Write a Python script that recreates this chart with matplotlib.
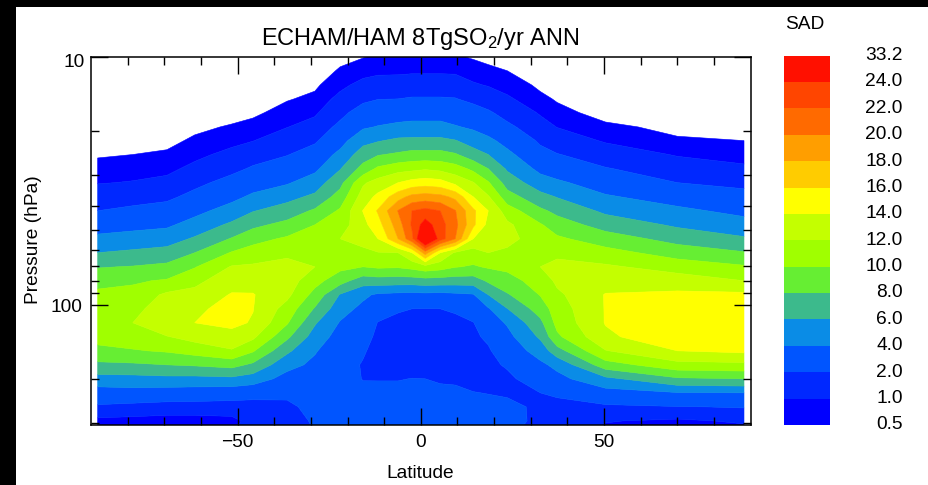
import numpy as np
import matplotlib
matplotlib.use('Agg')
import matplotlib.pyplot as plt
from matplotlib.patches import Rectangle
from matplotlib.transforms import ScaledTranslation

plt.rcParams['font.family'] = ['Liberation Sans', 'DejaVu Sans']
plt.rcParams['mathtext.default'] = 'regular'

W, H = 928, 485

# values
lats = [-88.2, -78.6, -69.3, -61.7, -51.6, -45.8, -36.5, -28.9, -22.0, -15.8, -11.7, -6.2,
        -2.4, 1.2, 5.3, 9.4, 14.3, 18.4, 23.6, 32.6, 37.2, 50.4, 70.0, 88.2]
pressures = [10.0, 11.4, 13.0, 14.8, 16.8, 19.2, 21.8, 24.8, 28.3, 32.2, 36.7, 41.8, 47.6, 54.2,
             61.7, 70.3, 80.0, 91.1, 103.8, 118.2, 134.6, 153.3, 174.6, 198.8, 226.4, 257.8, 293.6, 305.0]
# one line per latitude, top of the atmosphere first
sad = [
    [.15, .17, .2, .22, .25, .27, .32, .44, .70, .96, 1.46, 2.0, 3.17, 4.44, 6.0, 7.87, 9.44, 10.4, 11.0, 11.4, 10.7, 9.45, 7.57, 5.25, 3.0, 1.8, .76, .6],
    [.14, .16, .18, .21, .24, .28, .37, .5, .76, 1.04, 1.58, 2.25, 3.42, 4.78, 6.37, 8.1, 9.76, 10.6, 11.4, 12.0, 11.0, 9.85, 7.7, 5.3, 3.2, 1.55, .75, .6],
    [.13, .15, .17, .19, .22, .27, .34, .59, .84, 1.19, 1.73, 2.56, 3.68, 5.1, 6.75, 8.5, 10.2, 12.4, 13.1, 13.5, 11.9, 10.2, 8.0, 5.45, 3.0, 1.4, .72, .6],
    [.14, .16, .18, .22, .27, .37, .60, .84, 1.18, 1.68, 2.38, 3.46, 4.74, 6.25, 8.0, 9.87, 11.5, 12.6, 13.4, 14.0, 12.7, 10.8, 8.2, 5.4, 2.9, 1.4, .72, .6],
    [.14, .16, .18, .22, .28, .56, .83, 1.19, 1.7, 2.44, 3.5, 4.78, 6.38, 8.14, 10.15, 12.15, 13.15, 14.15, 15.0, 14.4, 13.4, 11.8, 8.65, 5.55, 2.7, 1.4, .8, .85],
    [.15, .17, .2, .27, .39, .69, .98, 1.52, 2.15, 3.19, 4.33, 5.9, 7.53, 9.33, 10.9, 12.3, 13.3, 14.1, 14.05, 13.85, 12.4, 10.2, 7.6, 5.0, 2.5, 1.45, 1.25, 1.3],
    [.17, .2, .27, .46, .71, .98, 1.45, 1.93, 2.86, 3.8, 5.4, 6.9, 8.6, 10.3, 11.7, 12.5, 13.0, 12.5, 11.2, 10.2, 8.4, 6.4, 4.6, 3.3, 2.2, 1.8, 1.5, 1.45],
    [.22, .28, .41, .62, .89, 1.3, 1.8, 2.7, 3.6, 5.0, 6.4, 8.3, 10.0, 10.7, 11.3, 12.0, 10.7, 9.3, 7.8, 6.2, 5.1, 4.15, 3.6, 3.1, 2.7, 2.3, 2.15, 2.1],
    [.38, .55, .84, 1.2, 1.67, 2.3, 3.3, 4.5, 5.9, 7.4, 8.85, 10.3, 11.0, 12.0, 11.2, 10.5, 8.8, 5.85, 4.8, 3.85, 3.2, 2.85, 2.6, 2.4, 2.3, 2.4, 2.4, 2.4],
    [.47, .78, 1.2, 1.75, 2.55, 3.75, 5.4, 7.0, 8.7, 11.7, 12.9, 14.05, 13.4, 12.7, 11.5, 10.0, 6.9, 4.4, 3.5, 3.0, 2.55, 2.15, 1.9, 1.97, 2.2, 2.4, 2.4, 2.4],
    [.55, .85, 1.35, 1.96, 3.0, 4.1, 5.85, 7.85, 10.4, 12.8, 14.5, 16.2, 15.2, 14.0, 11.9, 10.3, 7.1, 3.7, 2.6, 1.95, 1.7, 1.55, 1.5, 1.95, 2.3, 2.4, 2.4, 2.4],
    [.6, .85, 1.4, 2.0, 3.1, 4.45, 6.4, 8.3, 11.3, 14.0, 17.2, 20.1, 19.0, 18.0, 12.0, 10.2, 7.0, 3.5, 2.1, 1.75, 1.6, 1.5, 1.6, 1.95, 2.3, 2.4, 2.4, 2.4],
    [.62, .9, 1.4, 2.1, 3.2, 4.6, 6.45, 8.7, 11.5, 14.8, 18.6, 22.0, 22.3, 21.5, 14.0, 10.6, 7.0, 3.4, 2.0, 1.8, 1.65, 1.55, 1.6, 2.02, 2.3, 2.4, 2.4, 2.4],
    [.55, .9, 1.4, 2.1, 3.2, 4.6, 6.45, 8.7, 11.8, 15.1, 18.9, 22.7, 25.0, 28.0, 19.0, 11.2, 7.2, 3.5, 1.97, 1.8, 1.65, 1.55, 1.6, 2.0, 2.3, 2.4, 2.4, 2.4],
    [.62, .9, 1.4, 2.1, 3.2, 4.6, 6.45, 8.7, 11.5, 14.8, 18.6, 22.0, 22.8, 23.0, 14.0, 10.8, 7.1, 3.4, 2.0, 1.8, 1.65, 1.6, 1.7, 1.9, 2.2, 2.4, 2.4, 2.4],
    [.55, .88, 1.4, 2.05, 3.0, 4.15, 6.1, 8.2, 10.9, 13.5, 17.5, 20.1, 20.6, 20.0, 11.7, 10.1, 7.0, 3.6, 2.1, 1.8, 1.7, 1.6, 1.65, 1.85, 2.2, 2.35, 2.35, 2.35],
    [.45, .72, 1.08, 1.7, 2.55, 3.7, 5.1, 6.9, 9.55, 12.1, 14.0, 16.4, 16.4, 14.0, 11.0, 9.8, 7.0, 3.85, 2.8, 1.95, 1.8, 1.7, 1.65, 1.8, 2.02, 2.3, 2.3, 2.3],
    [.38, .6, .95, 1.45, 2.15, 3.2, 4.4, 6.0, 8.0, 10.2, 12.2, 14.0, 13.4, 12.8, 12.0, 10.2, 8.3, 6.0, 3.8, 3.0, 2.2, 1.85, 1.7, 1.8, 1.98, 2.2, 2.25, 2.25],
    [.3, .5, .78, 1.1, 1.6, 2.25, 3.4, 4.45, 5.75, 7.15, 8.85, 11.0, 12.4, 12.6, 11.6, 10.4, 9.3, 7.8, 5.95, 4.2, 3.4, 2.8, 2.15, 1.7, 1.9, 2.2, 2.3, 2.3],
    [.2, .28, .4, .62, .92, 1.32, 1.77, 2.5, 3.5, 4.9, 6.65, 8.4, 10.2, 11.0, 11.5, 12.0, 10.8, 10.1, 8.9, 7.5, 6.3, 4.8, 3.6, 2.8, 2.0, 1.85, 1.8, 1.7],
    [.18, .24, .33, .45, .65, .98, 1.45, 2.05, 3.1, 4.3, 5.9, 7.5, 8.95, 10.35, 11.55, 12.6, 12.4, 11.6, 11.0, 10.6, 9.6, 7.2, 4.5, 3.4, 2.15, 1.7, 1.55, 1.5],
    [.15, .18, .22, .27, .32, .6, .92, 1.45, 2.07, 3.1, 4.2, 5.6, 7.2, 8.95, 10.75, 12.3, 13.2, 14.1, 14.1, 14.1, 13.6, 11.9, 9.1, 5.5, 3.2, 1.75, 1.05, .95],
    [.14, .17, .2, .24, .29, .38, .56, .94, 1.44, 2.0, 3.2, 4.4, 5.7, 7.3, 9.1, 11.2, 13.0, 14.4, 15.5, 15.7, 15.5, 14.0, 11.3, 7.7, 3.9, 1.95, .85, .75],
    [.13, .15, .17, .2, .25, .31, .5, .78, 1.12, 1.68, 2.45, 3.5, 4.75, 6.25, 8.15, 10.25, 12.0, 14.45, 15.5, 15.8, 15.5, 14.4, 11.5, 8.0, 4.0, 2.07, 1.13, .95],
]

levels = [0.5, 1.0, 2.0, 4.0, 6.0, 8.0, 10.0, 12.0, 14.0, 16.0, 18.0, 20.0, 22.0, 24.0, 33.2]
colors = ['#0000ff', '#0028ff', '#0055ff', '#0a8ce6', '#3cba8c', '#66ee33', '#a0ff00',
          '#c4ff00', '#ffff00', '#ffcc00', '#ff9e00', '#ff6a00', '#ff4500', '#ff1000']
x_major = [-50, 0, 50]
x_labels = ['\u221250', '0', '50']
x_minor = [-80, -70, -60, -40, -30, -20, -10, 10, 20, 30, 40, 60, 70, 80]
y_major = [10, 100]
y_minor = [20, 30, 40, 50, 60, 70, 80, 90, 200, 300]

def box(x0, y0, x1, y1):  # pixel box of the picture, y from the top
    return [x0/W, 1-y1/H, (x1-x0)/W, (y1-y0)/H]

fig = plt.figure(figsize=((W+0.4)/100, (H+0.4)/100), dpi=100, facecolor='black')
fig.add_artist(Rectangle((16/W, 0), 1, 1-7/H, transform=fig.transFigure, color='white', lw=0, zorder=-5))

ax = fig.add_axes(box(91, 57, 751, 425))
ax.set_facecolor('white')
cs = ax.contourf(lats, pressures, np.array(sad).T, levels=levels, colors=colors, antialiased=True)
cs.set_edgecolor('face')  # no white seams between the bands
cs.set_linewidth(0.4)
ax.set_yscale('log')
ax.set_xlim(-90, 90.2)
ax.set_ylim(305, 10)
ax.set_xticks(x_major, x_labels)
ax.set_xticks(x_minor, minor=True)
ax.set_yticks(y_major, ['10', '100'])
ax.set_yticks(y_minor, [''] * len(y_minor), minor=True)
ax.tick_params(which='major', direction='in', length=12, width=1, top=True, right=True, labelsize=13.8, pad=6)
ax.tick_params(which='minor', direction='in', length=6, width=1, top=True, right=True)
ylab = ax.get_yticklabels()[0]
ylab.set_transform(ylab.get_transform() + ScaledTranslation(0.02, -0.035, fig.dpi_scale_trans))
for s in ax.spines.values():
    s.set_linewidth(1.1)
    s.set_zorder(5)

fig.text(420/W, 1-39/H, 'ECHAM/HAM 8TgSO$_2$/yr ANN', fontsize=17, ha='center', va='center')
fig.text(420/W, 1-473/H, 'Latitude', fontsize=13.8, ha='center', va='center')
fig.text(33/W, 1-239/H, 'Pressure (hPa)', fontsize=13.8, rotation=90, ha='center', va='center')

# colour scale: equal boxes, labels on the box edges
cax = fig.add_axes(box(784, 56, 830, 425))
steps = np.arange(len(colors))
cax.bar(np.zeros(len(colors)), np.ones(len(colors)), bottom=steps, width=1, color=colors, align='center')
cax.set_xlim(-0.5, 0.5)
cax.set_ylim(0, len(colors))
cax.set_xticks([])
cax.yaxis.tick_right()
cax.set_yticks(np.arange(len(levels)), ['%.1f' % v for v in levels], ha='right')
cax.tick_params(axis='y', length=0, pad=52, labelsize=13.8)
for t in cax.get_yticklabels():
    t.set_transform(t.get_transform() + ScaledTranslation(0, 0.025, fig.dpi_scale_trans))
for s in cax.spines.values():
    s.set_visible(False)
fig.text(804/W, 1-24/H, 'SAD', fontsize=13.8, ha='center', va='center')

fig.savefig('out.png', dpi=100, facecolor=fig.get_facecolor())
